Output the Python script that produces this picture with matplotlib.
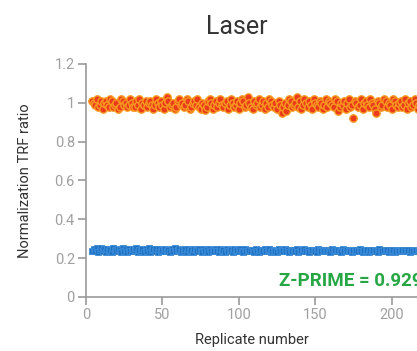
import matplotlib.pyplot as plt
import numpy as np

plt.rcParams['font.family'] = ['Roboto', 'DejaVu Sans']

# replicate numbers visible in the crop
replicate = list(range(4, 220))

high_ratio = [
    1.01, 1.00, 0.99, 1.02, 0.98, 0.99, 1.01, 0.97, 1.00, 1.01, 0.99, 0.98,
    1.02, 1.01, 0.98, 0.99, 1.00, 0.97, 0.98, 1.02, 1.01, 0.99, 1.00, 0.98,
    0.99, 1.02, 1.00, 0.98, 0.98, 1.01, 0.99, 1.02, 0.97, 1.00, 0.99, 1.01,
    0.98, 1.00, 1.01, 0.99, 0.97, 0.99, 1.02, 1.00, 0.98, 1.01, 0.99, 0.97,
    1.00, 1.03, 1.01, 0.98, 0.99, 1.00, 0.97, 0.98, 1.01, 1.02, 0.99, 1.00,
    0.98, 0.99, 1.02, 1.01, 0.97, 0.98, 1.00, 1.01, 0.99, 1.02, 0.98, 0.97,
    1.00, 0.99, 0.96, 0.98, 1.01, 1.02, 1.00, 0.97, 0.99, 1.01, 0.98, 1.00,
    1.02, 0.99, 0.98, 1.00, 1.01, 0.97, 0.99, 1.02, 1.00, 0.98, 0.99, 1.01,
    0.97, 1.00, 1.02, 1.01, 0.98, 0.99, 1.03, 1.00, 0.98, 0.97, 1.01, 0.99,
    1.00, 1.02, 0.98, 0.99, 1.01, 0.97, 1.00, 0.98, 1.02, 1.01, 0.99, 0.98,
    1.00, 0.97, 1.01, 0.99, 0.945, 0.98, 1.00, 0.955, 0.99, 1.02, 1.01, 0.98,
    0.99, 1.00, 1.03, 0.98, 1.01, 0.97, 0.99, 1.02, 1.00, 0.98, 1.01, 0.99,
    0.97, 1.02, 1.00, 0.99, 0.98, 1.01, 1.00, 0.97, 0.99, 1.02, 0.98, 1.01,
    1.00, 0.99, 0.98, 1.02, 1.01, 0.955, 0.98, 1.00, 0.99, 1.01, 0.97, 1.00,
    1.02, 0.98, 0.99, 0.923, 1.01, 1.00, 0.98, 0.99, 1.02, 0.97, 1.00, 1.01,
    0.99, 0.98, 1.02, 1.00, 0.99, 0.97, 0.945, 1.01, 1.00, 0.98, 0.99, 1.02,
    1.01, 0.98, 1.00, 0.99, 0.97, 1.02, 1.01, 0.99, 0.98, 1.00, 1.01, 0.98,
    0.99, 1.02, 0.97, 1.00, 1.01, 0.98, 0.99, 1.02, 1.00, 0.97, 0.99, 1.01,
]

low_ratio = [
    0.236, 0.247, 0.238, 0.250, 0.232, 0.241, 0.252, 0.235, 0.246, 0.231, 0.249, 0.239,
    0.244, 0.233, 0.251, 0.240, 0.234, 0.248, 0.243, 0.232, 0.250, 0.237, 0.245, 0.233,
    0.249, 0.238, 0.234, 0.247, 0.241, 0.251, 0.232, 0.244, 0.236, 0.248, 0.233, 0.246,
    0.239, 0.250, 0.232, 0.242, 0.247, 0.235, 0.245, 0.231, 0.249, 0.237, 0.243, 0.234,
    0.248, 0.236, 0.241, 0.233, 0.246, 0.238, 0.250, 0.234, 0.243, 0.247, 0.232, 0.240,
    0.235, 0.245, 0.233, 0.249, 0.238, 0.242, 0.231, 0.246, 0.240, 0.234, 0.248, 0.237,
    0.233, 0.246, 0.239, 0.244, 0.232, 0.247, 0.236, 0.243, 0.234, 0.249, 0.238, 0.233,
    0.245, 0.237, 0.242, 0.232, 0.247, 0.235, 0.244, 0.240, 0.233, 0.246, 0.236, 0.241,
    0.234, 0.245, 0.238, 0.232, 0.247, 0.239, 0.235, 0.244, 0.237, 0.242, 0.233, 0.246,
    0.238, 0.232, 0.244, 0.240, 0.234, 0.247, 0.236, 0.241, 0.245, 0.233, 0.239, 0.243,
    0.236, 0.232, 0.245, 0.238, 0.242, 0.234, 0.247, 0.237, 0.240, 0.233, 0.244, 0.236,
    0.241, 0.235, 0.246, 0.232, 0.239, 0.243, 0.234, 0.245, 0.237, 0.241, 0.233, 0.240,
    0.244, 0.236, 0.238, 0.232, 0.246, 0.240, 0.234, 0.243, 0.237, 0.242, 0.235, 0.239,
    0.233, 0.245, 0.237, 0.241, 0.234, 0.244, 0.238, 0.232, 0.246, 0.236, 0.240, 0.243,
    0.235, 0.239, 0.233, 0.244, 0.237, 0.241, 0.234, 0.245, 0.238, 0.232, 0.242, 0.236,
    0.244, 0.233, 0.240, 0.237, 0.243, 0.235, 0.239, 0.232, 0.245, 0.238, 0.234, 0.241,
    0.237, 0.243, 0.233, 0.240, 0.236, 0.244, 0.232, 0.239, 0.242, 0.235, 0.238, 0.244,
    0.234, 0.240, 0.237, 0.243, 0.233, 0.241, 0.236, 0.239, 0.244, 0.235, 0.238, 0.242,
]

z_prime = 0.929

fig = plt.figure(figsize=(4.17, 3.51), dpi=100)
ax = fig.add_axes([0.206, 0.154, 0.794, 0.664])

ax.scatter(replicate, low_ratio, marker='s', s=20, color='#1f73c2',
           edgecolors='#3a8ad8', linewidths=0.6, zorder=3)
ax.scatter(replicate, high_ratio, marker='o', s=28, color='#ea3c1b',
           edgecolors='#f89a20', linewidths=1.0, zorder=3)

ax.set_xlim(0, 216.6)
ax.set_ylim(0, 1.2)
ax.set_xticks([0, 50, 100, 150, 200])
ax.set_yticks([0, 0.2, 0.4, 0.6, 0.8, 1.0, 1.2])
ax.set_yticklabels(['{:g}'.format(v) for v in [0, 0.2, 0.4, 0.6, 0.8, 1.0, 1.2]])

for s in ['top', 'right']:
    ax.spines[s].set_visible(False)
for s in ['left', 'bottom']:
    ax.spines[s].set_color('#9a9a9a')
    ax.spines[s].set_linewidth(1.2)
ax.tick_params(colors='#9a9a9a', labelcolor='#a0a0a0', labelsize=10.5,
               length=6, width=1.2, direction='out', pad=2)

ax.set_xlabel('Replicate number', fontsize=10.5, color='#333333', labelpad=8)
ax.set_ylabel('Normalization TRF ratio', fontsize=10.5, color='#333333', labelpad=16)

fig.text(0.568, 0.924, 'Laser', ha='center', va='center', fontsize=18, color='#333333')

ax.text(126.5, 0.082, 'Z-PRIME = {:.3f}'.format(z_prime), ha='left', va='center',
        fontsize=13.5, fontweight='bold', color='#27a744', clip_on=False)

fig.savefig('out.png', dpi=100)
